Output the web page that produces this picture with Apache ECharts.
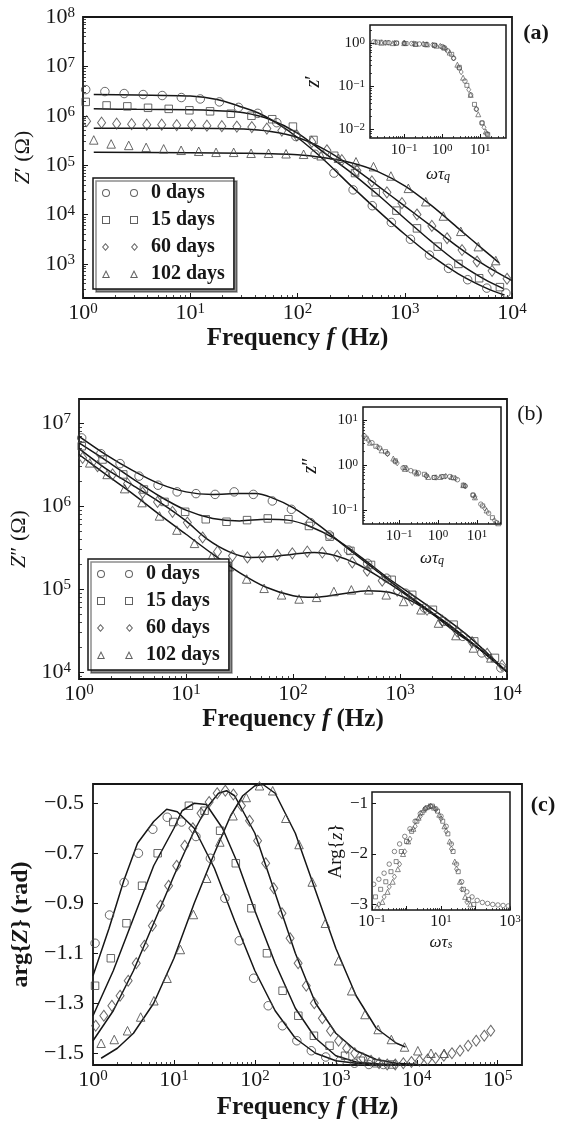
<!DOCTYPE html>
<html>
<head>
<meta charset="utf-8">
<script src="https://cdn.jsdelivr.net/npm/echarts@6.0.0/dist/echarts.min.js"></script>
<style>
  html, body { margin: 0; padding: 0; background: #fff; }
  #chart { width: 564px; height: 1122px; }
</style>
</head>
<body>
<div id="chart"></div>
<script>
// ---- data ----
const seriesNames = ['0 days', '15 days', '60 days', '102 days'];

// measurement frequencies (Hz) of each ageing series
const fDays0 = [1.06, 1.60, 2.42, 3.64, 5.48, 8.26, 12.4, 18.7, 28.2, 42.6, 64.1, 96.6, 146, 219, 330, 498, 750, 1130, 1700, 2560, 3860, 5820, 8770];
const fDays15 = [1.06, 1.66, 2.59, 4.04, 6.30, 9.82, 15.3, 23.9, 37.2, 58.1, 90.6, 141, 220, 344, 536, 836, 1300, 2030, 3170, 4940, 7710];
const fDays60 = [1.08, 1.49, 2.06, 2.84, 3.93, 5.42, 7.48, 10.3, 14.3, 19.7, 27.2, 37.5, 51.8, 71.4, 98.6, 136, 188, 259, 358, 494, 682, 942, 1300, 1790, 2480, 3420, 4720, 6520, 8990];
const fDays102 = [1.26, 1.83, 2.67, 3.88, 5.65, 8.22, 12.0, 17.4, 25.4, 36.9, 53.7, 78.2, 114, 166, 241, 351, 511, 743, 1080, 1570, 2290, 3330, 4850, 7060, 10300, 15000, 21800];
const fDays60c = [1.08, 1.36, 1.71, 2.16, 2.72, 3.42, 4.31, 5.42, 6.82, 8.59, 10.8, 13.6, 17.1, 21.6, 27.2, 34.2, 43.1, 54.2, 68.2, 85.9, 108, 136, 171, 216, 272, 342, 431, 542, 682, 859, 1080, 1360, 1710, 2160, 2720, 3420, 4310, 5420, 6820, 8590, 10800, 13600, 17100, 21600, 27200, 34200, 43100, 54200, 68200, 82000];

// (a) Z' (Ohm)
const zRe0 = [3.39e6, 3.09e6, 2.82e6, 2.69e6, 2.57e6, 2.34e6, 2.19e6, 1.91e6, 1.48e6, 1.12e6, 7.24e5, 3.80e5, 1.66e5, 6.92e4, 3.16e4, 1.51e4, 6.92e3, 3.16e3, 1.51e3, 813, 479, 324, 257];
const zRe15 = [1.91e6, 1.62e6, 1.55e6, 1.45e6, 1.38e6, 1.29e6, 1.23e6, 1.10e6, 1.0e6, 8.51e5, 6.03e5, 3.24e5, 1.55e5, 6.92e4, 2.82e4, 1.20e4, 5.25e3, 2.24e3, 1.0e3, 513, 339];
const zRe60 = [7.76e5, 7.24e5, 6.92e5, 6.76e5, 6.61e5, 6.61e5, 6.46e5, 6.46e5, 6.31e5, 6.17e5, 6.03e5, 5.89e5, 5.50e5, 5.01e5, 3.98e5, 2.95e5, 2.0e5, 1.26e5, 7.76e4, 4.68e4, 2.82e4, 1.70e4, 1.0e4, 5.89e3, 3.31e3, 1.91e3, 1.12e3, 724, 501];
const zRe102 = [3.24e5, 2.69e5, 2.51e5, 2.29e5, 2.14e5, 2.0e5, 1.91e5, 1.82e5, 1.82e5, 1.74e5, 1.74e5, 1.70e5, 1.66e5, 1.55e5, 1.38e5, 1.17e5, 9.33e4, 6.03e4, 3.39e4, 1.82e4, 9.33e3, 4.57e3, 2.24e3, 1.17e3];
const fitRe0 = [[1.26, 2.69e6], [3.16, 2.63e6], [10, 2.51e6], [17.8, 2.14e6], [28.2, 1.58e6], [42.7, 1.15e6], [63.1, 7.24e5], [100, 3.63e5], [178, 1.26e5], [316, 3.80e4], [562, 1.20e4], [1000, 3.98e3], [1780, 1.45e3], [3160, 631], [5620, 331], [8510, 234]];
const fitRe15 = [[1.26, 1.38e6], [3.16, 1.35e6], [10, 1.32e6], [17.8, 1.26e6], [31.6, 1.15e6], [56.2, 8.32e5], [100, 4.47e5], [178, 1.78e5], [316, 7.08e4], [562, 2.51e4], [1000, 8.32e3], [1780, 2.82e3], [3160, 1.05e3], [5620, 479], [8320, 316]];
const fitRe60 = [[1.26, 5.62e5], [10, 5.62e5], [31.6, 5.37e5], [56.2, 4.79e5], [100, 3.63e5], [178, 2.09e5], [316, 9.55e4], [562, 3.80e4], [1000, 1.48e4], [1780, 5.75e3], [3160, 2.19e3], [5620, 933], [10000, 460]];
const fitRe102 = [[1.26, 1.82e5], [10, 1.78e5], [31.6, 1.74e5], [100, 1.62e5], [178, 1.41e5], [316, 1.12e5], [562, 7.41e4], [1000, 3.80e4], [1780, 1.51e4], [3160, 5.25e3], [5620, 1.82e3], [7590, 1.05e3]];

// (a) inset: scaled z' vs omega*tau_q
const wqA0 = [0.0158, 0.0251, 0.0398, 0.0631, 0.1, 0.158, 0.251, 0.398, 0.631, 1, 1.41, 2.0, 2.82, 3.98, 5.62, 7.94, 11.2, 15.1];
const zrA0 = [1.07, 1.05, 1.02, 1.0, 1.0, 0.977, 0.955, 0.933, 0.891, 0.832, 0.661, 0.447, 0.263, 0.132, 0.0631, 0.0295, 0.0141, 0.00794];
const wqA15 = [0.02, 0.0355, 0.0631, 0.112, 0.2, 0.355, 0.631, 1.12, 1.78, 2.82, 4.47, 7.08, 11.2, 15.8];
const zrA15 = [1.05, 1.02, 1.0, 0.977, 0.955, 0.933, 0.891, 0.776, 0.55, 0.275, 0.105, 0.038, 0.0141, 0.00759];
const wqA60 = [0.0178, 0.0316, 0.0562, 0.1, 0.178, 0.316, 0.562, 0.891, 1.26, 2.0, 3.16, 5.01, 7.94, 12.6];
const zrA60 = [1.05, 1.02, 1.0, 1.0, 0.977, 0.955, 0.912, 0.851, 0.724, 0.447, 0.214, 0.0832, 0.0295, 0.0112];
const wqA102 = [0.0251, 0.0501, 0.1, 0.2, 0.398, 0.708, 1.12, 1.58, 2.51, 3.55, 5.62, 8.91, 14.1];
const zrA102 = [1.02, 1.0, 1.0, 0.955, 0.933, 0.871, 0.794, 0.603, 0.316, 0.158, 0.0631, 0.0224, 0.00891];

// (b) Z'' (Ohm)
const zIm0 = [6.61e6, 4.27e6, 3.24e6, 2.29e6, 1.78e6, 1.48e6, 1.41e6, 1.38e6, 1.48e6, 1.38e6, 1.15e6, 9.12e5, 6.31e5, 4.47e5, 2.95e5, 2.04e5, 1.35e5, 8.91e4, 5.89e4, 4.07e4, 2.69e4, 1.70e4, 1.12e4];
const zIm15 = [5.25e6, 3.63e6, 2.40e6, 1.58e6, 1.12e6, 8.51e5, 6.92e5, 6.46e5, 6.76e5, 7.08e5, 6.92e5, 5.75e5, 4.27e5, 2.88e5, 1.95e5, 1.29e5, 8.51e4, 5.62e4, 3.72e4, 2.34e4, 1.48e4];
const zIm60 = [3.80e6, 3.02e6, 2.40e6, 1.86e6, 1.45e6, 1.12e6, 8.51e5, 6.31e5, 4.17e5, 2.82e5, 2.51e5, 2.40e5, 2.45e5, 2.57e5, 2.69e5, 2.82e5, 2.75e5, 2.51e5, 2.09e5, 1.66e5, 1.26e5, 9.55e4, 7.41e4, 5.62e4, 4.17e4, 3.09e4, 2.29e4, 1.66e4, 1.20e4];
const zIm102 = [3.31e6, 2.40e6, 1.62e6, 1.10e6, 7.59e5, 5.13e5, 3.55e5, 2.45e5, 1.86e5, 1.32e5, 1.02e5, 8.51e4, 7.59e4, 7.94e4, 9.33e4, 9.77e4, 9.77e4, 8.51e4, 7.08e4, 5.62e4, 3.89e4, 2.75e4, 1.95e4, 1.48e4];
const fitIm0 = [[1, 6.92e6], [1.78, 4.17e6], [3.16, 2.69e6], [5.62, 1.86e6], [10, 1.48e6], [17.8, 1.38e6], [31.6, 1.41e6], [44.7, 1.41e6], [63.1, 1.26e6], [100, 9.55e5], [178, 5.75e5], [316, 3.16e5], [562, 1.78e5], [1000, 1.0e5], [1780, 5.75e4], [3160, 3.39e4], [5620, 1.86e4], [10000, 1.0e4]];
const fitIm15 = [[1, 5.75e6], [1.78, 3.55e6], [3.16, 2.14e6], [5.62, 1.32e6], [10, 8.91e5], [17.8, 7.08e5], [31.6, 6.61e5], [56.2, 6.92e5], [89.1, 6.76e5], [141, 5.75e5], [251, 3.98e5], [447, 2.34e5], [794, 1.32e5], [1410, 7.94e4], [2510, 4.68e4], [4470, 2.63e4], [10000, 1.0e4]];
const fitIm60 = [[1, 4.90e6], [1.78, 2.82e6], [3.16, 1.78e6], [5.62, 1.12e6], [10, 6.61e5], [15.8, 3.98e5], [25.1, 2.82e5], [39.8, 2.40e5], [63.1, 2.45e5], [100, 2.63e5], [158, 2.75e5], [251, 2.51e5], [398, 2.0e5], [631, 1.41e5], [1000, 9.55e4], [1780, 5.62e4], [3160, 3.31e4], [5620, 1.86e4], [10000, 1.0e4]];
const fitIm102 = [[1, 4.17e6], [1.78, 2.40e6], [3.16, 1.41e6], [5.62, 7.94e5], [10, 4.57e5], [17.8, 2.63e5], [31.6, 1.58e5], [56.2, 1.05e5], [100, 8.32e4], [158, 7.94e4], [282, 8.71e4], [501, 9.55e4], [794, 9.12e4], [1260, 7.24e4], [2000, 5.01e4], [3160, 3.16e4], [5620, 1.86e4], [10000, 1.0e4]];

// (b) inset: scaled z'' vs omega*tau_q
const wqB0 = [0.0126, 0.02, 0.0316, 0.0501, 0.0794, 0.126, 0.2, 0.316, 0.501, 0.794, 1.26, 2.0, 3.16, 5.01, 7.94, 12.6, 20.0, 31.6];
const ziB0 = [4.47, 3.16, 2.40, 1.82, 1.20, 0.871, 0.759, 0.676, 0.589, 0.537, 0.562, 0.562, 0.479, 0.347, 0.219, 0.138, 0.0871, 0.0537];
const wqB15 = [0.0141, 0.0251, 0.0447, 0.0794, 0.141, 0.251, 0.447, 0.794, 1.41, 2.51, 4.47, 7.94, 14.1, 25.1];
const ziB15 = [3.98, 2.63, 2.0, 1.26, 0.891, 0.708, 0.631, 0.537, 0.562, 0.525, 0.363, 0.219, 0.126, 0.0692];
const wqB60 = [0.0158, 0.0282, 0.0501, 0.0891, 0.158, 0.282, 0.501, 0.891, 1.58, 2.82, 5.01, 8.91, 15.8, 28.2];
const ziB60 = [3.63, 2.51, 1.78, 1.12, 0.832, 0.676, 0.575, 0.537, 0.575, 0.513, 0.347, 0.2, 0.112, 0.0603];
const wqB102 = [0.0178, 0.0355, 0.0708, 0.141, 0.282, 0.562, 1.12, 2.24, 4.47, 8.91, 17.8, 35.5];
const ziB102 = [3.16, 2.14, 1.41, 0.832, 0.661, 0.55, 0.55, 0.55, 0.363, 0.195, 0.1, 0.052];

// (c) arg{Z} (rad)
const argZ0 = [-1.06, -0.947, -0.817, -0.70, -0.604, -0.556, -0.575, -0.633, -0.72, -0.88, -1.05, -1.2, -1.31, -1.39, -1.45, -1.49, -1.515, -1.53, -1.54, -1.545, -1.545];
const argZ15 = [-1.23, -1.12, -0.98, -0.83, -0.70, -0.575, -0.51, -0.53, -0.61, -0.74, -0.92, -1.10, -1.25, -1.35, -1.43, -1.47, -1.51, -1.53, -1.54, -1.545];
const argZ60 = [-1.39, -1.35, -1.31, -1.27, -1.21, -1.14, -1.07, -0.99, -0.91, -0.83, -0.75, -0.67, -0.60, -0.54, -0.495, -0.46, -0.45, -0.465, -0.51, -0.57, -0.65, -0.74, -0.84, -0.94, -1.04, -1.14, -1.23, -1.30, -1.36, -1.41, -1.45, -1.48, -1.50, -1.52, -1.53, -1.54, -1.545, -1.545, -1.54, -1.535, -1.53, -1.525, -1.52, -1.51, -1.50, -1.49, -1.47, -1.45, -1.43, -1.41];
const argZ102 = [-1.46, -1.445, -1.41, -1.355, -1.29, -1.20, -1.085, -0.945, -0.80, -0.655, -0.55, -0.477, -0.43, -0.45, -0.56, -0.665, -0.815, -0.98, -1.13, -1.25, -1.345, -1.405, -1.445, -1.475, -1.49, -1.50, -1.50];
const fitArg0 = [[1, -1.19], [1.58, -1.0], [2.40, -0.81], [3.55, -0.66], [5.62, -0.573], [8.13, -0.524], [11.0, -0.534], [17.8, -0.6], [31.6, -0.76], [56.2, -0.97], [100, -1.17], [178, -1.33], [316, -1.44], [562, -1.5], [1000, -1.53], [1780, -1.54], [3160, -1.545], [7080, -1.545]];
const fitArg15 = [[1, -1.35], [1.78, -1.17], [3.16, -0.96], [5.62, -0.75], [10, -0.6], [12.6, -0.53], [17.8, -0.5], [25.1, -0.505], [39.8, -0.6], [63.1, -0.75], [100, -0.93], [178, -1.14], [316, -1.32], [562, -1.44], [1000, -1.51], [1780, -1.535], [3980, -1.545], [10000, -1.545]];
const fitArg60 = [[1, -1.45], [1.78, -1.33], [3.16, -1.17], [5.62, -0.98], [10, -0.79], [17.8, -0.61], [25.1, -0.52], [35.5, -0.46], [44.7, -0.45], [56.2, -0.47], [100, -0.62], [178, -0.86], [316, -1.1], [562, -1.3], [1000, -1.42], [1780, -1.49], [3160, -1.525], [5620, -1.54], [10000, -1.545]];
const fitArg102 = [[1.26, -1.52], [2.0, -1.48], [3.16, -1.42], [5.62, -1.3], [10, -1.12], [17.8, -0.9], [31.6, -0.7], [50.1, -0.55], [70.8, -0.47], [100, -0.43], [126, -0.425], [178, -0.46], [316, -0.62], [562, -0.85], [1000, -1.08], [1780, -1.27], [3160, -1.4], [5620, -1.46], [7240, -1.475]];

// (c) inset: Arg{z} vs omega*tau_s
const wsC0 = [0.112, 0.158, 0.224, 0.316, 0.447, 0.631, 0.891, 1.26, 1.78, 2.51, 3.55, 5.01, 7.08, 10, 14.1, 20, 28.2, 39.8, 56.2, 79.4, 112, 158, 224, 316, 447, 631, 891];
const argC0 = [-2.6, -2.5, -2.38, -2.2, -1.95, -1.8, -1.65, -1.5, -1.35, -1.2, -1.1, -1.05, -1.1, -1.25, -1.45, -1.8, -2.2, -2.55, -2.75, -2.85, -2.92, -2.96, -2.98, -3.0, -3.01, -3.02, -3.03];
const wsC15 = [0.126, 0.178, 0.251, 0.355, 0.501, 0.708, 1.0, 1.41, 2.0, 2.82, 3.98, 5.62, 7.94, 11.2, 15.8, 22.4, 31.6, 44.7, 63.1, 89.1];
const argC15 = [-2.85, -2.7, -2.55, -2.35, -2.15, -1.95, -1.75, -1.55, -1.35, -1.18, -1.08, -1.05, -1.15, -1.35, -1.6, -1.95, -2.35, -2.7, -2.9, -3.0];
const wsC60 = [0.158, 0.224, 0.316, 0.447, 0.631, 0.891, 1.26, 1.78, 2.51, 3.55, 5.01, 7.08, 10, 14.1, 20, 28.2, 39.8, 56.2];
const argC60 = [-3.0, -2.85, -2.65, -2.45, -2.2, -1.95, -1.7, -1.45, -1.25, -1.1, -1.05, -1.12, -1.3, -1.55, -1.9, -2.3, -2.7, -2.95];
const wsC102 = [0.141, 0.2, 0.282, 0.398, 0.562, 0.794, 1.12, 1.58, 2.24, 3.16, 4.47, 6.31, 8.91, 12.6, 17.8, 25.1, 35.5, 50.1, 70.8];
const argC102 = [-3.05, -2.95, -2.75, -2.55, -2.3, -2.0, -1.75, -1.5, -1.28, -1.12, -1.05, -1.08, -1.22, -1.45, -1.75, -2.15, -2.55, -2.85, -3.0];

// tick positions (decade exponents / values)
const xDecadesAB = [0, 1, 2, 3, 4];
const xDecadesC = [0, 1, 2, 3, 4, 5];
const yDecadesA = [3, 4, 5, 6, 7, 8];
const yDecadesB = [4, 5, 6, 7];
const yTicksC = [-1.5, -1.3, -1.1, -0.9, -0.7, -0.5];
const insetXDecades = [-1, 0, 1];
const insetYDecadesA = [-2, -1, 0];
const insetYDecadesB = [-1, 0, 1];
const insetXTicksC = [-1, 0, 1, 2, 3];
const insetXLabelsC = [-1, 1, 3];
const insetYTicksC = [-3, -2, -1];

// ---- drawing ----
const SERIF = '"Liberation Serif", "DejaVu Serif", serif';
const INK = '#161616';
const MARK = '#444';
const LG = Math.log10;
const logLog = (xs, ys) => ys.map((y, i) => [LG(xs[i]), LG(y)]);
const logLin = (xs, ys) => ys.map((y, i) => [LG(xs[i]), y]);
const pairsLogLog = ps => ps.map(p => [LG(p[0]), LG(p[1])]);
const pairsLogLin = ps => ps.map(p => [LG(p[0]), p[1]]);

function minorOf(lo, hi) {
  const out = [];
  for (let n = Math.floor(lo); n < hi; n++) {
    for (let k = 2; k < 10; k++) {
      const v = n + LG(k);
      if (v > lo && v < hi) out.push(v);
    }
  }
  return out;
}
const sup = v => (v < 0 ? '\u2212' + (-v) : String(v));
const powFmt = v => '{b|10}{s|' + sup(Math.round(v)) + '}';
const powRich = (big, small) => ({
  b: { fontFamily: SERIF, fontSize: big, color: INK },
  s: { fontFamily: SERIF, fontSize: small, color: INK, verticalAlign: 'top' }
});
const decFmt = v => (v < 0 ? '\u2212' : '') + Math.abs(v).toFixed(1);
const intFmt = v => sup(Math.round(v));

const xAxes = [], yAxes = [];
function axis(list, dim, g, lo, hi, o) {
  const base = {
    type: 'value', gridIndex: g, min: lo, max: hi,
    position: dim === 'x' ? 'bottom' : 'left',
    axisLine: { show: false, onZero: false },
    splitLine: { show: false }
  };
  list.push(Object.assign({}, base, {
    axisTick: { show: true, inside: true, length: o.tickLen || 5, customValues: o.ticks, lineStyle: { color: INK, width: 1 } },
    axisLabel: { customValues: o.labels || o.ticks, formatter: o.fmt, margin: o.margin, rich: o.rich,
                 fontFamily: SERIF, fontSize: o.fontSize || 22, color: INK },
    name: o.name || '', nameLocation: 'middle', nameGap: o.nameGap || 0, nameTextStyle: o.nameStyle
  }));
  const idx = list.length - 1;
  if (o.minor) {
    list.push(Object.assign({}, base, {
      axisTick: { show: true, inside: true, length: o.minorLen || 3, customValues: minorOf(lo, hi), lineStyle: { color: INK, width: 0.8 } },
      axisLabel: { show: false }
    }));
  }
  return idx;
}
function nameStyle(size, bold) {
  const w = bold ? 'bold' : 'normal';
  return {
    fontFamily: SERIF, fontSize: size, fontWeight: w, color: INK,
    rich: {
      i: { fontFamily: SERIF, fontSize: size, fontWeight: w, fontStyle: 'italic', color: INK },
      q: { fontFamily: SERIF, fontSize: Math.round(size * 0.7), fontStyle: 'italic', color: INK, verticalAlign: 'bottom' }
    }
  };
}

const grids = [
  { left: 83, top: 17, width: 429, height: 281, borderWidth: 1.8 },   // (a)
  { left: 370, top: 25, width: 136, height: 113, borderWidth: 1.5 },  // (a) inset
  { left: 79, top: 399, width: 428, height: 280, borderWidth: 1.8 },  // (b)
  { left: 363, top: 407, width: 138, height: 117, borderWidth: 1.5 }, // (b) inset
  { left: 93, top: 784, width: 429, height: 281, borderWidth: 1.8 },  // (c)
  { left: 372, top: 792, width: 138, height: 118, borderWidth: 1.5 }  // (c) inset
].map(g => Object.assign(g, { show: true, borderColor: INK, backgroundColor: 'transparent' }));

const freqName = 'Frequency {i|f} (Hz)';
const wqName = '{i|\u03c9\u03c4}{q|q}';

// (a)
const xa = axis(xAxes, 'x', 0, 0, 4, { ticks: xDecadesAB, fmt: powFmt, rich: powRich(22, 15), margin: 4, minor: true,
  name: freqName, nameGap: 28, nameStyle: nameStyle(25, true) });
const ya = axis(yAxes, 'y', 0, 2.31, 8, { ticks: yDecadesA, fmt: powFmt, rich: powRich(22, 15), margin: 8, minor: true,
  name: '{i|Z}\u2032 (\u03a9)', nameGap: 43, nameStyle: nameStyle(22, false) });
const xai = axis(xAxes, 'x', 1, -1.9, 1.68, { ticks: insetXDecades, fmt: powFmt, rich: powRich(15, 11), margin: 5, minor: true,
  tickLen: 4, minorLen: 2, name: wqName, nameGap: 28, nameStyle: nameStyle(17, false) });
const yai = axis(yAxes, 'y', 1, -2.2, 0.42, { ticks: insetYDecadesA, fmt: powFmt, rich: powRich(15, 11), margin: 5, minor: true,
  tickLen: 4, minorLen: 2, name: '{i|z}\u2032', nameGap: 46, nameStyle: nameStyle(20, false) });

// (b)
const xb = axis(xAxes, 'x', 2, 0, 4, { ticks: xDecadesAB, fmt: powFmt, rich: powRich(22, 15), margin: 4, minor: true,
  name: freqName, nameGap: 28, nameStyle: nameStyle(25, true) });
const yb = axis(yAxes, 'y', 2, 3.916, 7.289, { ticks: yDecadesB, fmt: powFmt, rich: powRich(22, 15), margin: 8, minor: true,
  name: '{i|Z}\u2033 (\u03a9)', nameGap: 43, nameStyle: nameStyle(22, false) });
const xbi = axis(xAxes, 'x', 3, -1.93, 1.62, { ticks: insetXDecades, fmt: powFmt, rich: powRich(15, 11), margin: 5, minor: true,
  tickLen: 4, minorLen: 2, name: wqName, nameGap: 26, nameStyle: nameStyle(17, false) });
const ybi = axis(yAxes, 'y', 3, -1.3, 1.29, { ticks: insetYDecadesB, fmt: powFmt, rich: powRich(15, 11), margin: 5, minor: true,
  tickLen: 4, minorLen: 2, name: '{i|z}\u2033', nameGap: 42, nameStyle: nameStyle(20, false) });

// (c)
const xc = axis(xAxes, 'x', 4, 0, 5.3, { ticks: xDecadesC, fmt: powFmt, rich: powRich(22, 15), margin: 4, minor: true,
  name: freqName, nameGap: 30, nameStyle: nameStyle(25, true) });
const yc = axis(yAxes, 'y', 4, -1.547, -0.423, { ticks: yTicksC, fmt: decFmt, margin: 9, fontSize: 22,
  name: 'arg{{i|Z}} (rad)', nameGap: 54, nameStyle: nameStyle(24, true) });
const xci = axis(xAxes, 'x', 5, -1, 3, { ticks: insetXTicksC, labels: insetXLabelsC, fmt: powFmt, rich: powRich(16, 11), margin: 4,
  minor: true, tickLen: 4, minorLen: 2, name: '{i|\u03c9\u03c4}{q|s}', nameGap: 24, nameStyle: nameStyle(17, false) });
const yci = axis(yAxes, 'y', 5, -3.11, -0.77, { ticks: insetYTicksC, fmt: intFmt, margin: 4, fontSize: 17, tickLen: 4,
  name: 'Arg{{i|z}}', nameGap: 24, nameStyle: nameStyle(19, false) });

const SHAPES = ['circle', 'rect', 'diamond', 'triangle'];
const BIG = [8.5, 7.5, [8, 11], [8.5, 8.5]];
const SMALL = [4.5, 4, [4, 5.5], [5, 5]];
const series = [];
function marks(xi, yi, sets, sizes, bw) {
  sets.forEach((d, k) => series.push({
    type: 'scatter', name: seriesNames[k], xAxisIndex: xi, yAxisIndex: yi, data: d,
    symbol: SHAPES[k], symbolSize: sizes[k], silent: true, z: 3,
    itemStyle: { color: 'transparent', borderColor: MARK, borderWidth: bw }
  }));
}
function fits(xi, yi, sets, smooth) {
  sets.forEach(d => series.push({
    type: 'line', xAxisIndex: xi, yAxisIndex: yi, data: d, symbol: 'none', showSymbol: false,
    smooth: smooth, silent: true, z: 2, lineStyle: { color: INK, width: 1.5 }
  }));
}

fits(xa, ya, [fitRe0, fitRe15, fitRe60, fitRe102].map(pairsLogLog), 0.3);
marks(xa, ya, [logLog(fDays0, zRe0), logLog(fDays15, zRe15), logLog(fDays60, zRe60), logLog(fDays102, zRe102)], BIG, 1);
marks(xai, yai, [logLog(wqA0, zrA0), logLog(wqA15, zrA15), logLog(wqA60, zrA60), logLog(wqA102, zrA102)], SMALL, 0.8);

fits(xb, yb, [fitIm0, fitIm15, fitIm60, fitIm102].map(pairsLogLog), 0.3);
marks(xb, yb, [logLog(fDays0, zIm0), logLog(fDays15, zIm15), logLog(fDays60, zIm60), logLog(fDays102, zIm102)], BIG, 1);
marks(xbi, ybi, [logLog(wqB0, ziB0), logLog(wqB15, ziB15), logLog(wqB60, ziB60), logLog(wqB102, ziB102)], SMALL, 0.8);

fits(xc, yc, [fitArg0, fitArg15, fitArg60, fitArg102].map(pairsLogLin), false);
marks(xc, yc, [logLin(fDays0, argZ0), logLin(fDays15, argZ15), logLin(fDays60c, argZ60), logLin(fDays102, argZ102)], BIG, 1);
marks(xci, yci, [logLin(wsC0, argC0), logLin(wsC15, argC15), logLin(wsC60, argC60), logLin(wsC102, argC102)], SMALL, 0.8);

// legend icons: two hollow markers side by side
const ICONS = [
  'path://M0,4A4,4,0,1,1,8,4A4,4,0,1,1,0,4ZM1,4A3,3,0,1,0,7,4A3,3,0,1,0,1,4ZM28,4A4,4,0,1,1,36,4A4,4,0,1,1,28,4ZM29,4A3,3,0,1,0,35,4A3,3,0,1,0,29,4Z',
  'path://M0,0L8,0L8,8L0,8ZM1,1L1,7L7,7L7,1ZM28,0L36,0L36,8L28,8ZM29,1L29,7L35,7L35,1Z',
  'path://M3.5,0L7,4L3.5,8L0,4ZM3.5,1.4L1.25,4L3.5,6.6L5.75,4ZM32.5,0L36,4L32.5,8L29,4ZM32.5,1.4L30.25,4L32.5,6.6L34.75,4Z',
  'path://M4,0L8,8L0,8ZM4,2.3L1.6,7L6.4,7ZM32,0L36,8L28,8ZM32,2.3L29.6,7L34.4,7Z'
];
const legendBase = {
  orient: 'vertical', itemWidth: 36, itemHeight: 8, itemGap: 7, padding: [5, 9, 5, 9],
  selectedMode: false, backgroundColor: '#fff', borderColor: INK, borderWidth: 1.5, borderRadius: 0,
  shadowColor: 'rgba(0,0,0,0.45)', shadowBlur: 0, shadowOffsetX: 3, shadowOffsetY: 3,
  itemStyle: { color: '#3a3a3a', borderWidth: 0 },
  textStyle: { fontFamily: SERIF, fontWeight: 'bold', fontSize: 20, color: INK, padding: [0, 0, 0, 8] },
  data: seriesNames.map((n, k) => ({ name: n, icon: ICONS[k] }))
};

function panelTag(text, x, y, bold) {
  return { type: 'text', x: x, y: y, silent: true,
    style: { text: text, font: (bold ? 'bold ' : '') + '22px ' + SERIF, fill: INK,
             align: 'center', verticalAlign: 'middle', textAlign: 'center', textVerticalAlign: 'middle' } };
}

const chart = echarts.init(document.getElementById('chart'), null, { renderer: 'canvas' });
chart.setOption({
  animation: false,
  backgroundColor: '#fff',
  grid: grids,
  xAxis: xAxes,
  yAxis: yAxes,
  legend: [Object.assign({ left: 93, top: 178 }, legendBase), Object.assign({ left: 88, top: 559 }, legendBase)],
  graphic: [panelTag('(a)', 536, 33, true), panelTag('(b)', 530, 414, false), panelTag('(c)', 543, 805, true)],
  series: series
});
window.onresize = () => chart.resize();
</script>
</body>
</html>
